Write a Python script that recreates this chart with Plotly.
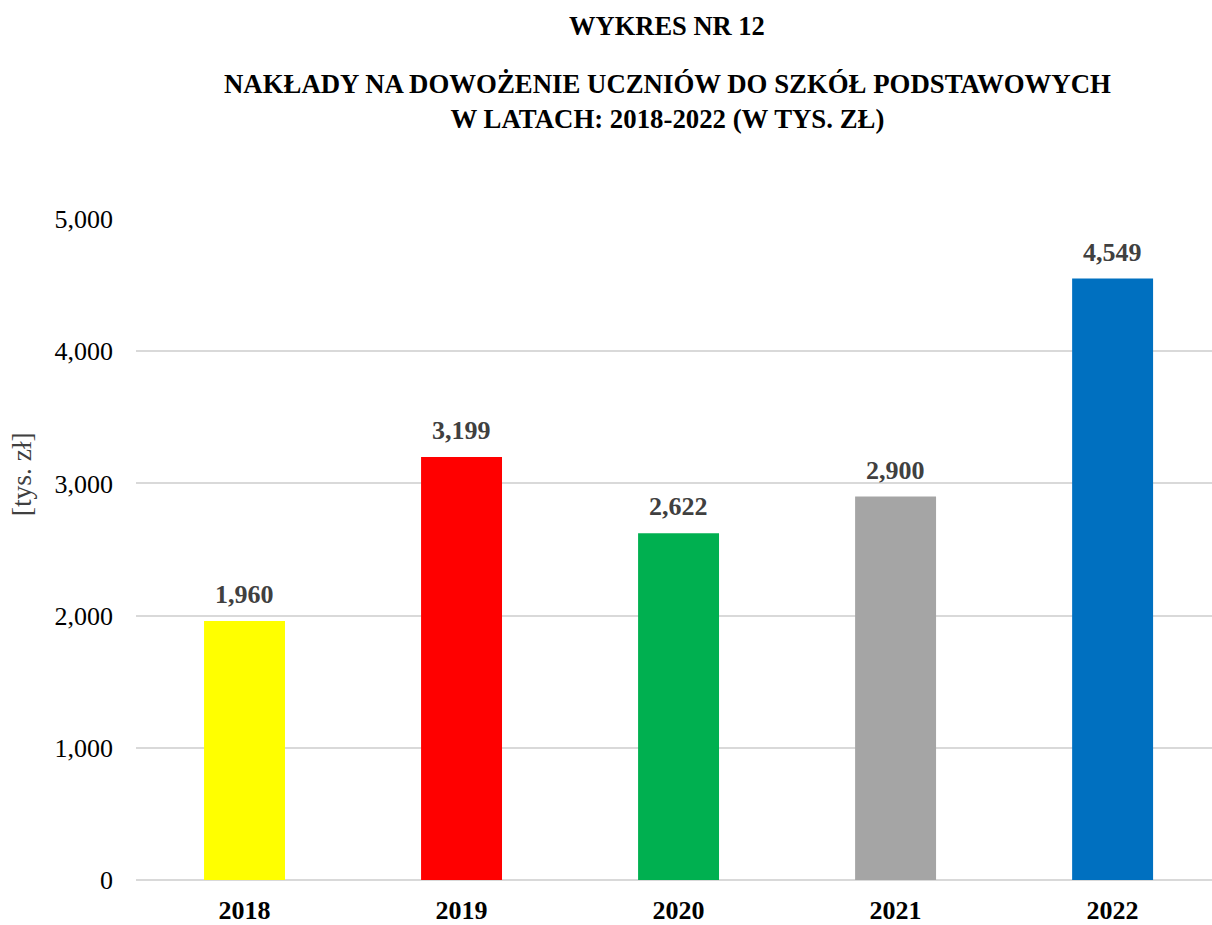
import plotly.graph_objects as go

years = ["2018", "2019", "2020", "2021", "2022"]
values = [1960, 3199, 2622, 2900, 4549]
colors = ["#FFFF00", "#FF0000", "#00B050", "#A5A5A5", "#0070C0"]
y_ticks = [0, 1000, 2000, 3000, 4000, 5000]

FONT = "Liberation Serif, Times New Roman, serif"

fig = go.Figure(go.Bar(
    x=years, y=values,
    marker=dict(color=colors, line=dict(width=0)),
    hoverinfo="skip",
))

PLOT_TOP, PLOT_BOTTOM = 219, 882
PH = PLOT_BOTTOM - PLOT_TOP

annotations = []
for i, v in enumerate(values):
    annotations.append(dict(
        x=i, y=v, xref="x", yref="y", text=f"<b>{v:,}</b>",
        showarrow=False, yanchor="bottom", yshift=10,
        font=dict(family=FONT, size=26, color="#404040"),
    ))

annotations += [
    dict(text="<b>WYKRES NR 12</b>", x=0.4935, y=(PLOT_BOTTOM - 25) / PH, xref="paper", yref="paper",
         showarrow=False, font=dict(family=FONT, size=26.5, color="black"), yanchor="middle"),
    dict(text="<b>NAKŁADY NA DOWOŻENIE UCZNIÓW DO SZKÓŁ PODSTAWOWYCH<br>W LATACH: 2018-2022 (W TYS. ZŁ)</b>",
         x=0.4935, y=(PLOT_BOTTOM - 101) / PH, xref="paper", yref="paper",
         showarrow=False, font=dict(family=FONT, size=26.8, color="black"), yanchor="middle"),
    dict(text="[tys. zł]", x=(21 - 136) / 1076, y=(PLOT_BOTTOM - 475) / PH, xref="paper", yref="paper",
         showarrow=False, textangle=-90, font=dict(family=FONT, size=27.5, color="#404040"),
         xanchor="center", yanchor="middle"),
]

fig.update_layout(
    width=1212, height=925,
    margin=dict(l=136, r=0, t=PLOT_TOP, b=925 - PLOT_BOTTOM),
    paper_bgcolor="white", plot_bgcolor="white",
    bargap=0.627,
    showlegend=False,
    font=dict(family=FONT, color="black"),
    xaxis=dict(
        type="category", range=[-0.5, 4.458],
        showgrid=False, showline=False, zeroline=False,
        tickfont=dict(family=FONT, size=26, color="black", weight="bold"),
        ticklabelstandoff=12,
    ),
    yaxis=dict(
        range=[0, 5000], tickvals=y_ticks,
        tickformat=",",
        showgrid=True, gridcolor="#D9D9D9", gridwidth=2,
        zeroline=True, zerolinecolor="#D9D9D9", zerolinewidth=2,
        showline=False,
        tickfont=dict(family=FONT, size=26, color="black"),
        ticklabelstandoff=22,
    ),
    annotations=annotations,
)

fig.write_html("out.html", config={"displayModeBar": False},
               post_script="document.body.style.margin='0';document.body.style.overflow='hidden';")
